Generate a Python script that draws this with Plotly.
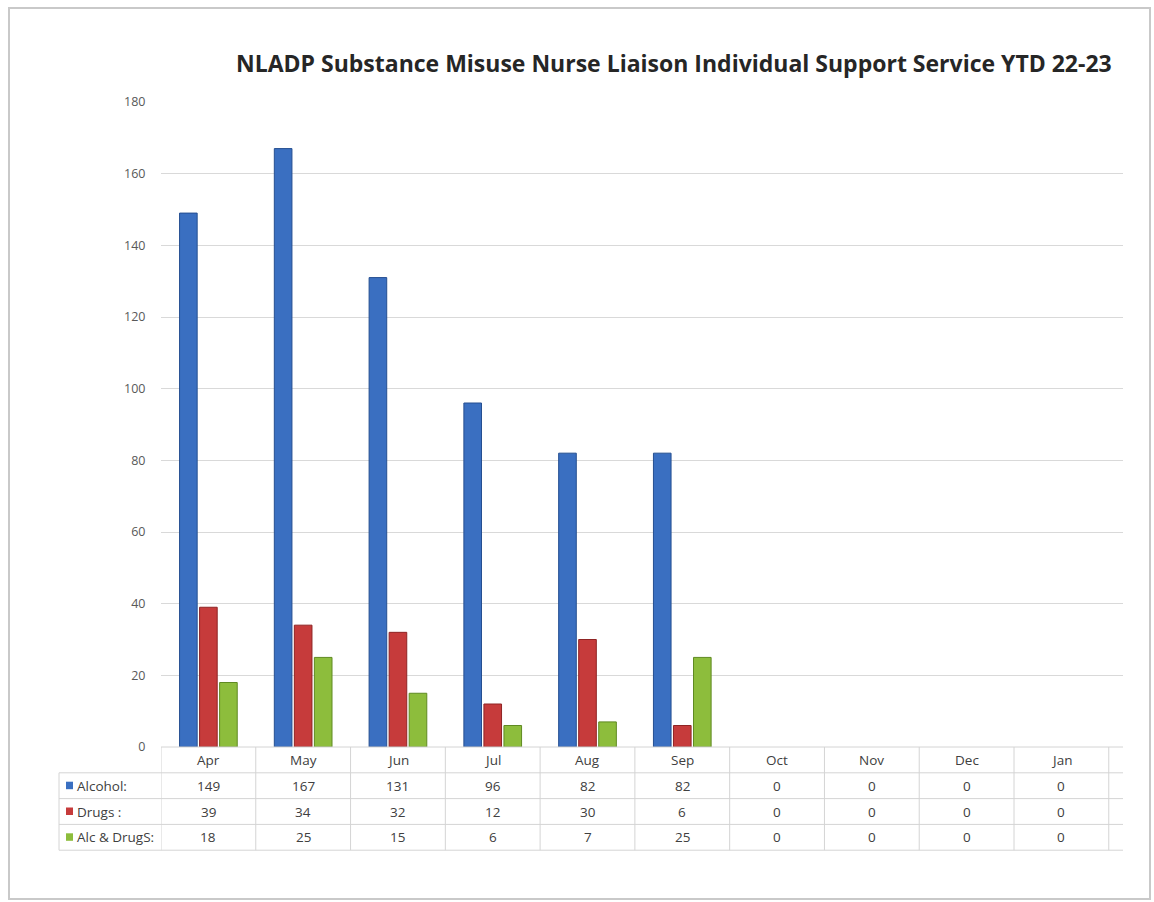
import plotly.graph_objects as go

# ---- data ----
months = ["Apr", "May", "Jun", "Jul", "Aug", "Sep", "Oct", "Nov", "Dec", "Jan"]
alcohol = [149, 167, 131, 96, 82, 82, 0, 0, 0, 0]
drugs = [39, 34, 32, 12, 30, 6, 0, 0, 0, 0]
alc_drugs = [18, 25, 15, 6, 7, 25, 0, 0, 0, 0]
series_names = ["Alcohol:", "Drugs :", "Alc & DrugS:"]
series_values = [alcohol, drugs, alc_drugs]
y_ticks = [0, 20, 40, 60, 80, 100, 120, 140, 160, 180]
title_text = "NLADP Substance Misuse Nurse Liaison Individual Support Service YTD 22-23"

# ---- styling ----
fill_colors = ["#3a6fc1", "#c63b3b", "#8dbd3c"]
edge_colors = ["#254f91", "#8f2424", "#5f8a22"]
W, H = 1154, 902
ML, MR, MT, MB = 161, 31, 102, 155
PW, PH = W - ML - MR, H - MT - MB
FONT = "Open Sans"
TXT = "#404040"
GRID = "#d9d9d9"


def px_x(p):
    return (p - ML) / PW


def px_y(p):
    return (H - MB - p) / PH


fig = go.Figure()
for name, vals, fc, ec in zip(series_names, series_values, fill_colors, edge_colors):
    fig.add_trace(go.Bar(
        x=months, y=vals, name=name,
        marker=dict(color=fc, line=dict(color=ec, width=[1 if v > 0 else 0 for v in vals])),
        showlegend=False, hoverinfo="x+y+name",
    ))

ncat = len(months)
x_end = -0.5 + ncat + 0.15

shapes = []
annotations = []

# table geometry (pixels)
row_h = 25.8
top = H - MB  # 747
rows_y = [top + row_h * i for i in range(5)]  # boundaries
label_left = 59
line_style = dict(color="#d4d4d4", width=1)

shapes.append(dict(type="line", xref="x", yref="paper", x0=-0.5, x1=x_end,
                   y0=px_y(rows_y[0]), y1=px_y(rows_y[0]), line=line_style))
for yb in rows_y[1:]:
    shapes.append(dict(type="line", xref="paper", yref="paper", x0=px_x(label_left), x1=0,
                       y0=px_y(yb), y1=px_y(yb), line=line_style))
    shapes.append(dict(type="line", xref="x", yref="paper", x0=-0.5, x1=x_end,
                       y0=px_y(yb), y1=px_y(yb), line=line_style))
for k in range(ncat + 1):
    shapes.append(dict(type="line", xref="x", yref="paper", x0=k - 0.5, x1=k - 0.5,
                       y0=px_y(rows_y[0]), y1=px_y(rows_y[4]), line=line_style))
shapes.append(dict(type="line", xref="paper", yref="paper", x0=px_x(label_left), x1=px_x(label_left),
                   y0=px_y(rows_y[1]), y1=px_y(rows_y[4]), line=line_style))

for m in months:
    annotations.append(dict(x=m, xref="x", y=px_y((rows_y[0] + rows_y[1]) / 2), yref="paper",
                            text=m, showarrow=False, xanchor="center", yanchor="middle",
                            font=dict(family=FONT, size=13.5, color=TXT)))
for r, (name, vals, fc) in enumerate(zip(series_names, series_values, fill_colors)):
    yc = (rows_y[r + 1] + rows_y[r + 2]) / 2
    for m, v in zip(months, vals):
        annotations.append(dict(x=m, xref="x", y=px_y(yc), yref="paper",
                                text=str(v), showarrow=False, xanchor="center", yanchor="middle",
                                font=dict(family=FONT, size=13.5, color=TXT)))
    annotations.append(dict(x=px_x(75), xref="paper", y=px_y(yc), yref="paper",
                            text=name, showarrow=False, xanchor="left", yanchor="middle",
                            font=dict(family=FONT, size=13.5, color=TXT)))
    shapes.append(dict(type="rect", xref="paper", yref="paper",
                       x0=px_x(66), x1=px_x(73), y0=px_y(yc - 4), y1=px_y(yc + 3.5),
                       fillcolor=fc, line=dict(color=fc, width=0)))

# page frame
shapes.append(dict(type="rect", xref="paper", yref="paper", layer="below",
                   x0=px_x(9), x1=px_x(1150), y0=px_y(899), y1=px_y(8),
                   line=dict(color="#c9c9c9", width=2)))

annotations.append(dict(x=px_x(674), xref="paper", y=px_y(63), yref="paper",
                        text="<b>" + title_text + "</b>", showarrow=False,
                        xanchor="center", yanchor="middle",
                        font=dict(family=FONT, size=23, color="#262626")))

fig.update_layout(
    width=W, height=H,
    margin=dict(l=ML, r=MR, t=MT, b=MB),
    paper_bgcolor="white", plot_bgcolor="white",
    barmode="group", bargap=0.366, bargroupgap=0.12,
    shapes=shapes, annotations=annotations,
    xaxis=dict(range=[-0.5, x_end], showticklabels=False, showgrid=False,
               zeroline=False, showline=False, ticks=""),
    yaxis=dict(range=[0, 180], tickvals=y_ticks, showgrid=True, gridcolor=GRID,
               gridwidth=1, zeroline=False, showline=False, ticks="outside",
               ticklen=12, tickcolor="rgba(0,0,0,0)",
               tickfont=dict(family=FONT, size=12.5, color="#595959")),
)

fig.write_html("out.html")
